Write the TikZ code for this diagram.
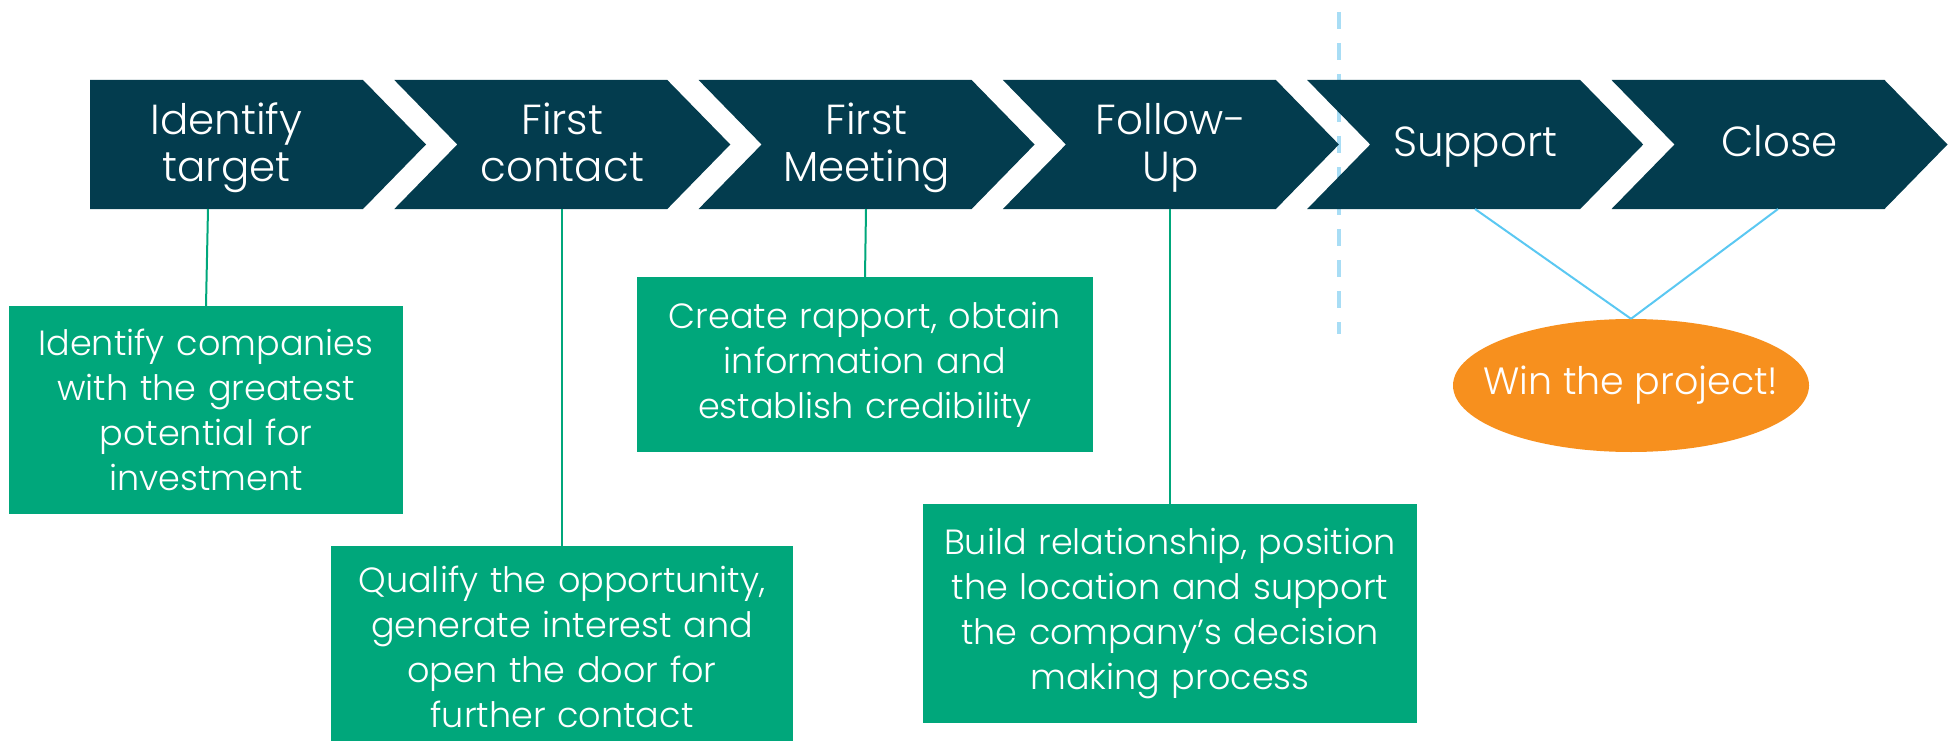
\documentclass[tikz,border=0pt]{standalone}
\usepackage{fontspec}
\IfFontExistsTF{Poppins Light}{\setmainfont{Poppins Light}}{\setmainfont{Poppins}}
\usetikzlibrary{shapes.geometric}
\definecolor{navy}{HTML}{033C4E}
\definecolor{boxgreen}{HTML}{00A77B}
\definecolor{winorange}{HTML}{F7901E}
\definecolor{linkblue}{HTML}{5BC8F2}
\definecolor{dashblue}{HTML}{A8DDF5}
\begin{document}
\begin{tikzpicture}[x=1pt,y=-1pt,
  chev/.style={fill=navy,draw=none},
  chevtext/.style={text=white,font=\fontsize{42}{47}\selectfont,align=center,inner sep=0pt,anchor=base},
  greenbox/.style={fill=boxgreen,text=white,font=\fontsize{35}{45}\selectfont,align=center,inner sep=0pt},
  glink/.style={draw=boxgreen,line width=2pt},
  blink/.style={draw=linkblue,line width=2pt},
  dashline/.style={draw=dashblue,line width=3.5pt,dash pattern=on 17pt off 14pt}]
\useasboundingbox (0,0) rectangle (1949,741);
% dashed separator (behind chevrons)
\coordinate (dtop) at (1339,12);
\coordinate (dbot) at (1339,334);
\draw[dashline] (dtop) -- (dbot);
% first chevron (no notch)
\fill[chev] (90,80) -- (363,80) -- (426,144.5) -- (363,209) -- (90,209) -- cycle;
\node[chevtext] (c1) at (226.5,181) {Identify\\target};
% other chevrons
\foreach \i/\txt/\yb in {2/{First\\contact}/181,3/{First\\Meeting}/181,4/{Follow-\\Up}/181,5/{Support}/157,6/{Close}/157}{
  \pgfmathsetmacro\L{90+304.3*(\i-1)}
  \fill[chev] (\L,80) -- (\L+273,80) -- (\L+336,144.5) -- (\L+273,209) -- (\L,209) -- (\L+63,144.5) -- cycle;
  \node[chevtext] (c\i) at (\L+168,\yb) {\txt};
}
% connector anchors on chevron bottoms
\coordinate (b1) at (208,209);
\coordinate (b2) at (562,209);
\coordinate (b3) at (866,209);
\coordinate (b4) at (1170,209);
\coordinate (b5) at (1475,209);
\coordinate (b6) at (1778,209);
% boxes
\node[greenbox,minimum width=394pt,minimum height=208pt,text width=390pt] (A) at (206,410)
  {Identify companies\\with the greatest\\potential for\\investment};
\node[greenbox,minimum width=462pt,minimum height=202pt,text width=458pt] (B) at (562,647)
  {Qualify the opportunity,\\generate interest and\\open the door for\\further contact};
\node[greenbox,minimum width=456pt,minimum height=175pt,text width=450pt] (C) at (865,364.5)
  {Create rapport, obtain\\information and\\establish credibility};
\node[greenbox,minimum width=494pt,minimum height=219pt,text width=490pt] (D) at (1170,613.5)
  {Build relationship, position\\the location and support\\the company’s decision\\making process};
\node[ellipse,fill=winorange,inner sep=0pt,minimum width=356pt,minimum height=133pt,
  label={[text=white,font=\fontsize{38}{44}\selectfont]center:Win the project!}] (win) at (1631,385.5) {};
% connectors
\draw[glink] (b1) -- (A.north);
\draw[glink] (b2) -- (B.north);
\draw[glink] (b3) -- (C.north);
\draw[glink] (b4) -- (D.north);
\draw[blink] (b5) -- (win.north);
\draw[blink] (b6) -- (win.north);
\end{tikzpicture}
\end{document}
